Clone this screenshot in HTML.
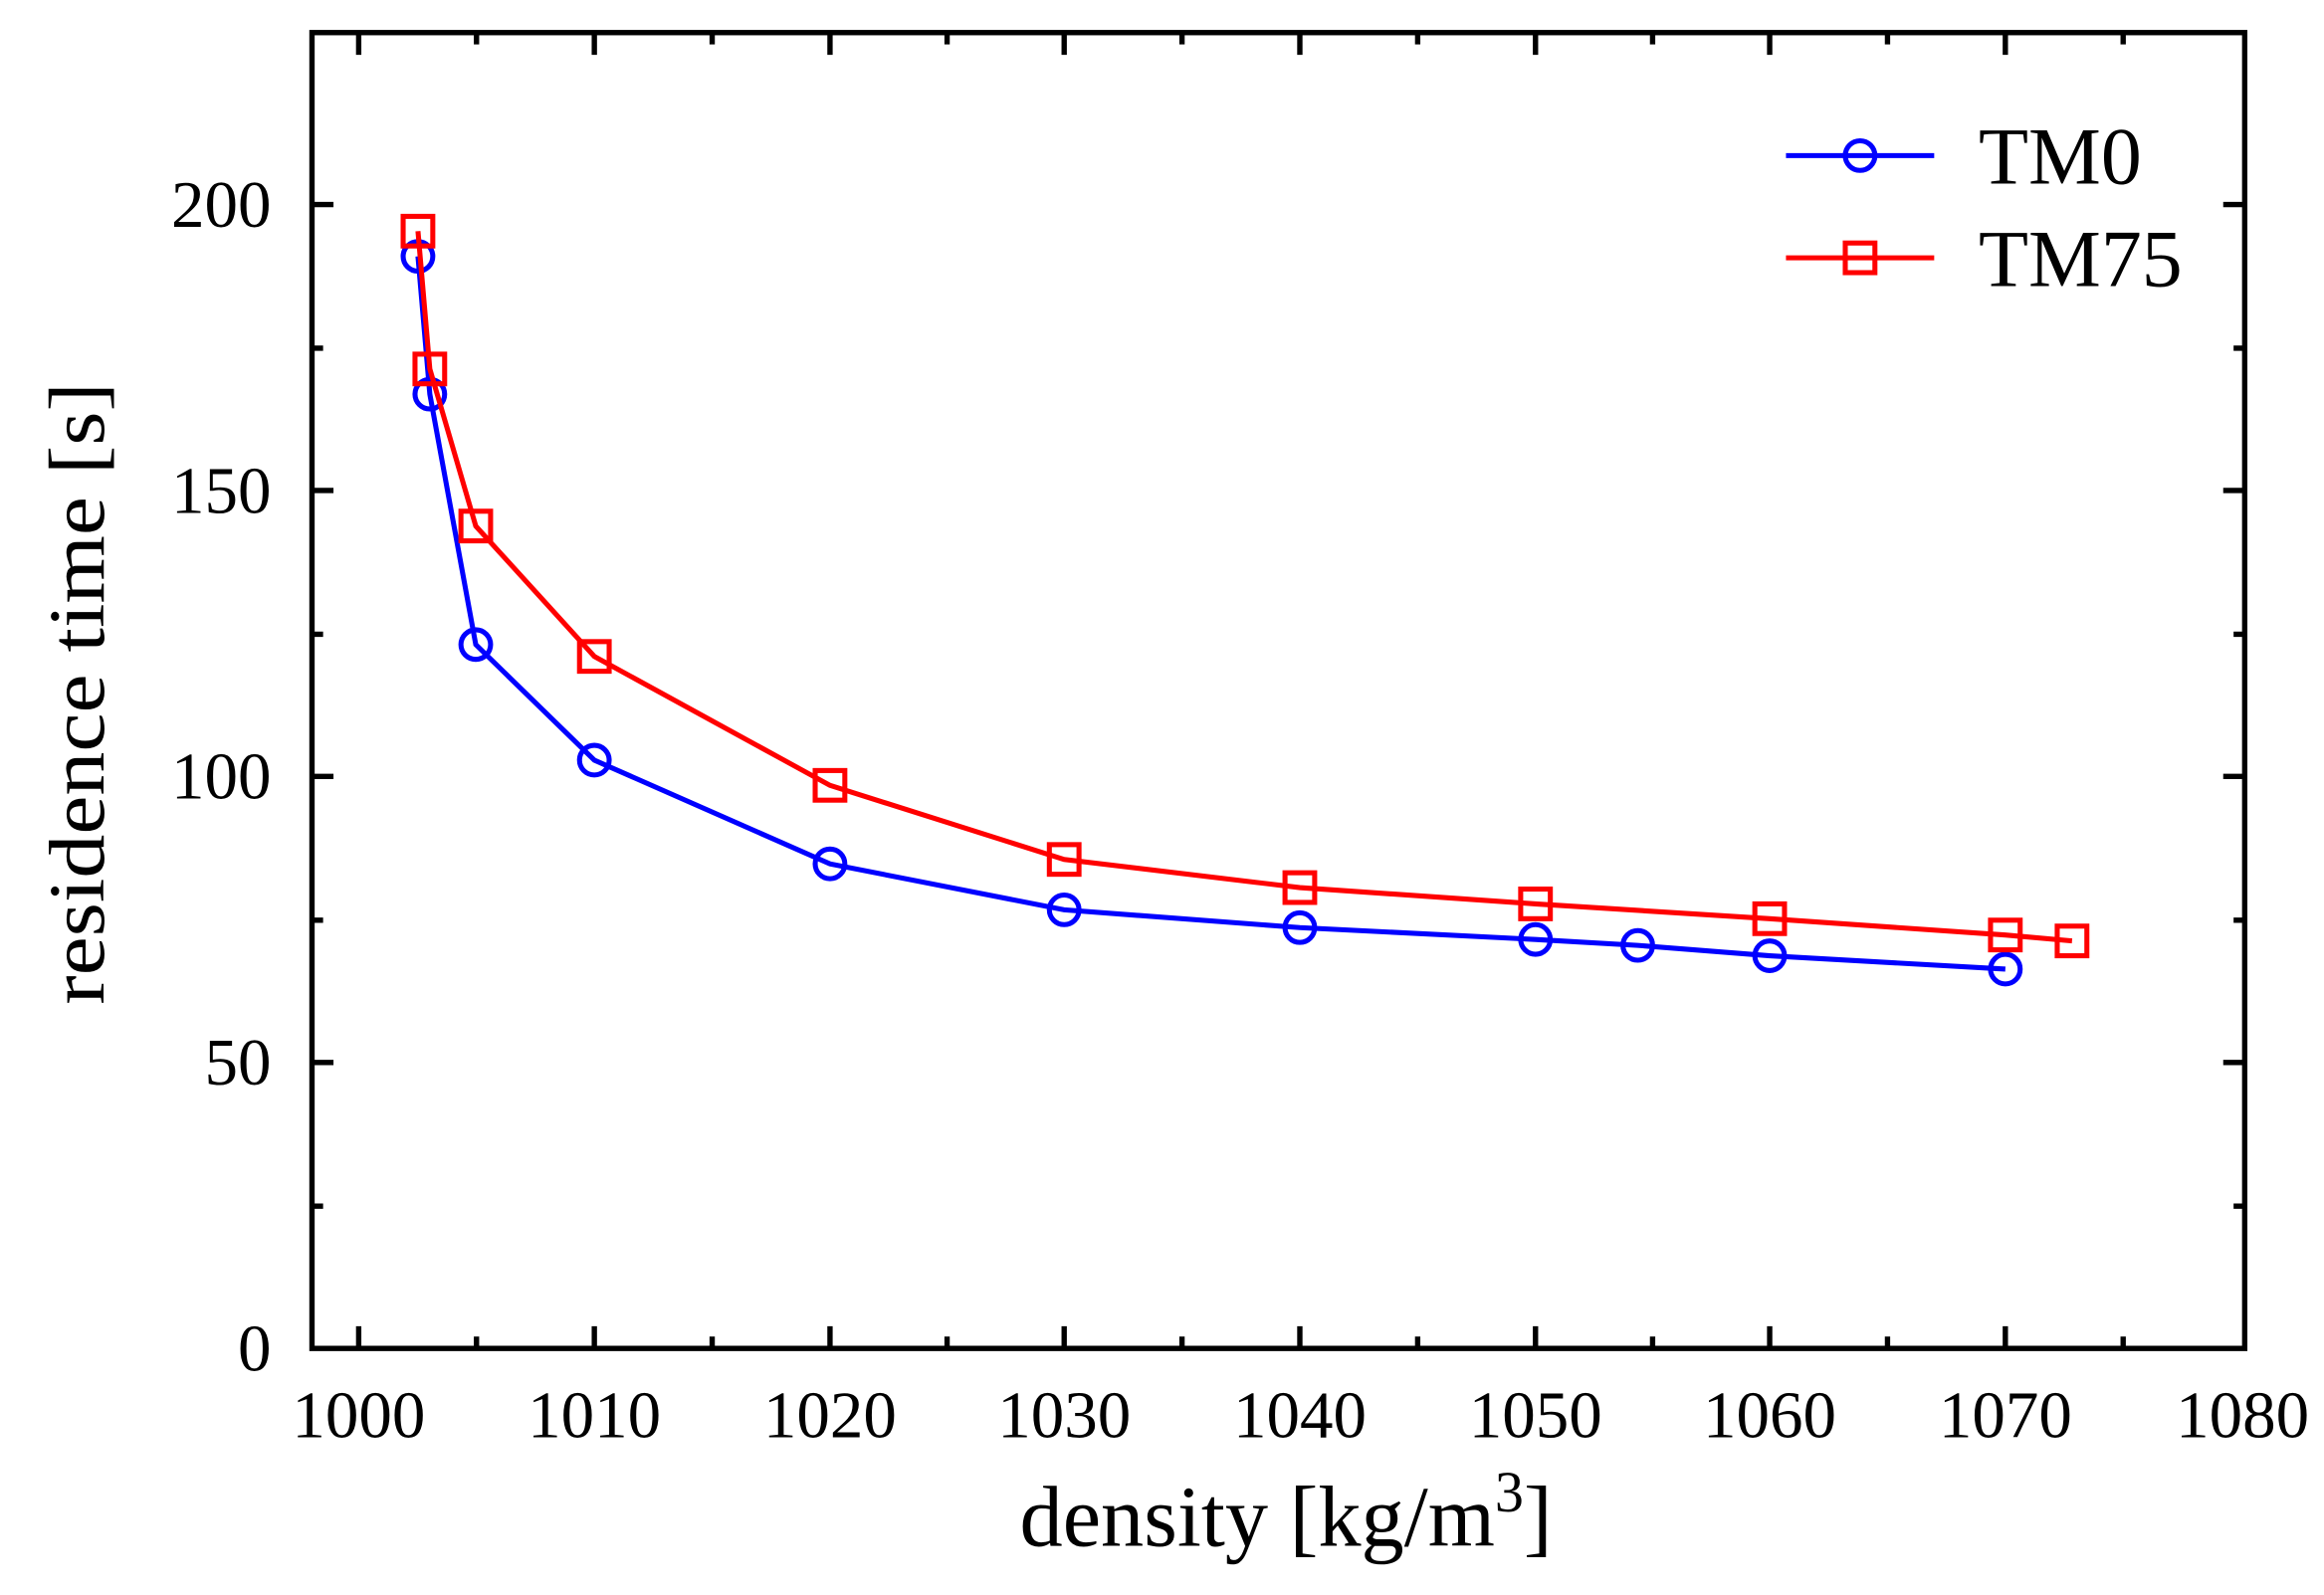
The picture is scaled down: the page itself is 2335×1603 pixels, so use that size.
<!DOCTYPE html>
<html><head><meta charset="utf-8"><style>html,body{margin:0;padding:0;background:#fff}svg{display:block}</style></head>
<body>
<svg width="2335" height="1603" viewBox="0 0 1568 1076.4" preserveAspectRatio="none" xmlns="http://www.w3.org/2000/svg" font-family="'Liberation Serif', serif">
<rect width="1568" height="1077" fill="#fff"/>
<g stroke="#000" stroke-width="3.6" fill="none">
<rect x="210.5" y="22" width="1304" height="888"/>
<path d="M242,910v-15M401,910v-15M560,910v-15M718,910v-15M877,910v-15M1036,910v-15M1194,910v-15M1353,910v-15M242,22v15M401,22v15M560,22v15M718,22v15M877,22v15M1036,22v15M1194,22v15M1353,22v15"/>
<path d="M321.5,910v-8M480.5,910v-8M639,910v-8M797.5,910v-8M956.5,910v-8M1115,910v-8M1273.5,910v-8M1432.5,910v-8M321.5,22v8M480.5,22v8M639,22v8M797.5,22v8M956.5,22v8M1115,22v8M1273.5,22v8M1432.5,22v8"/>
<path d="M210,717h15M210,524h15M210,331h15M210,138h15M1515,717h-15M1515,524h-15M1515,331h-15M1515,138h-15"/>
<path d="M210,814h8M210,621h8M210,428h8M210,235h8M1515,814h-8M1515,621h-8M1515,428h-8M1515,235h-8"/>
</g>
<g font-size="45" text-anchor="middle" fill="#000">
<text x="242" y="970">1000</text><text x="401" y="970">1010</text><text x="560" y="970">1020</text><text x="718" y="970">1030</text><text x="877" y="970">1040</text><text x="1036" y="970">1050</text><text x="1194" y="970">1060</text><text x="1353" y="970">1070</text><text x="1513" y="970">1080</text>
</g>
<g font-size="45" text-anchor="end" fill="#000">
<text x="183" y="925">0</text><text x="183" y="732">50</text><text x="183" y="539">100</text><text x="183" y="346">150</text><text x="183" y="153">200</text>
</g>
<text x="688" y="1043" font-size="58">density [kg/m<tspan font-size="39" dy="-23">3</tspan><tspan dy="23">]</tspan></text>
<text transform="translate(70,468) rotate(-90)" font-size="53" text-anchor="middle" textLength="420" lengthAdjust="spacingAndGlyphs">residence time [s]</text>
<g stroke="#0000ff" stroke-width="3.4" fill="none">
<polyline points="282,173 290,266 321,435 401,513 560,583 718,614 877,626 1036,634 1105,638 1194,645 1353,654"/>
<circle cx="282" cy="173" r="10"/><circle cx="290" cy="266" r="10"/><circle cx="321" cy="435" r="10"/><circle cx="401" cy="513" r="10"/><circle cx="560" cy="583" r="10"/><circle cx="718" cy="614" r="10"/><circle cx="877" cy="626" r="10"/><circle cx="1036" cy="634" r="10"/><circle cx="1105" cy="638" r="10"/><circle cx="1194" cy="645" r="10"/><circle cx="1353" cy="654" r="10"/>
<path d="M1205,105h100"/><circle cx="1255" cy="105" r="10"/>
</g>
<g stroke="#ff0000" stroke-width="3.4" fill="none">
<polyline points="282,156 290,249 321,355 401,443 560,530 718,580 877,599 1036,610 1194,620 1353,631 1398,635"/>
<rect x="272" y="146" width="20" height="20"/><rect x="280" y="239" width="20" height="20"/><rect x="311" y="345" width="20" height="20"/><rect x="391" y="433" width="20" height="20"/><rect x="550" y="520" width="20" height="20"/><rect x="708" y="570" width="20" height="20"/><rect x="867" y="589" width="20" height="20"/><rect x="1026" y="600" width="20" height="20"/><rect x="1184" y="610" width="20" height="20"/><rect x="1343" y="621" width="20" height="20"/><rect x="1388" y="625" width="20" height="20"/>
<path d="M1205,174h100"/><rect x="1245" y="164" width="20" height="20"/>
</g>
<g font-size="55" fill="#000">
<text x="1335" y="124">TM0</text>
<text x="1335" y="193">TM75</text>
</g>
</svg>
</body></html>
